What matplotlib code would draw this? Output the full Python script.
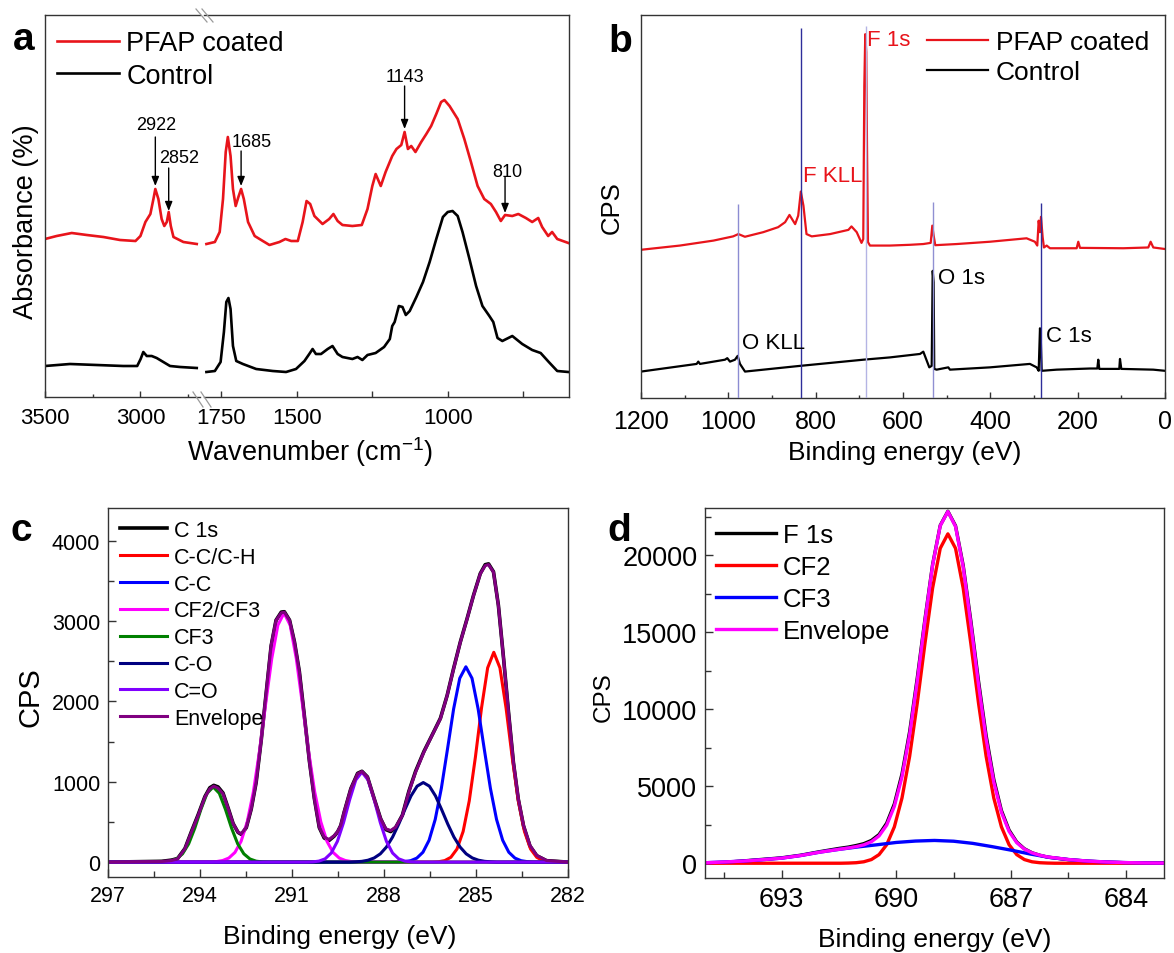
import matplotlib
matplotlib.use('Agg')
import matplotlib.pyplot as plt
from matplotlib.lines import Line2D

plt.rcParams['font.family'] = ['Liberation Sans', 'DejaVu Sans']
plt.rcParams['mathtext.fontset'] = 'custom'
plt.rcParams['mathtext.rm'] = 'Liberation Sans'
plt.rcParams['mathtext.it'] = 'Liberation Sans:italic'
plt.rcParams['mathtext.bf'] = 'Liberation Sans:bold'

# ---------------- Panel a : FTIR (broken wavenumber axis) ----------------
A_HI_WN_PFAP = [3500, 3439, 3360, 3281, 3194, 3107, 3026, 3000, 2974, 2948, 2932, 2922,
                2906, 2889, 2875, 2862, 2852, 2841, 2827, 2775, 2705]
A_HI_PFAP = [1.58, 1.61, 1.64, 1.62, 1.60, 1.57, 1.56, 1.61, 1.75, 1.83, 1.98, 2.08,
             1.98, 1.78, 1.71, 1.75, 1.85, 1.71, 1.60, 1.55, 1.53]
A_HI_WN_CTRL = [3500, 3369, 3229, 3090, 3017, 2999, 2985, 2967, 2941, 2915, 2880, 2845, 2792, 2705]
A_HI_CTRL = [0.31, 0.33, 0.32, 0.31, 0.31, 0.38, 0.45, 0.41, 0.41, 0.39, 0.35, 0.31, 0.30, 0.29]

A_LO_WN_PFAP = [1800, 1772, 1756, 1745, 1736, 1729, 1720, 1712, 1703, 1694,
                1685, 1676, 1662, 1640, 1613, 1591, 1558, 1538, 1519, 1497,
                1481, 1468, 1456, 1442, 1415, 1393, 1379, 1365, 1349, 1316,
                1285, 1266, 1250, 1239, 1222, 1206, 1184, 1170, 1154, 1143,
                1132, 1121, 1107, 1088, 1071, 1055, 1038, 1022, 1011, 994,
                967, 945, 923, 901, 879, 857, 840, 824, 810, 786,
                766, 741, 720, 700, 687, 667, 654, 637, 600]
A_LO_PFAP = [1.53, 1.55, 1.65, 1.98, 2.45, 2.60, 2.41, 2.08, 1.91, 2.00,
             2.08, 1.98, 1.75, 1.61, 1.56, 1.52, 1.55, 1.58, 1.56, 1.56,
             1.75, 1.96, 1.93, 1.81, 1.73, 1.78, 1.83, 1.76, 1.72, 1.71,
             1.72, 1.88, 2.11, 2.23, 2.11, 2.25, 2.41, 2.48, 2.52, 2.65,
             2.48, 2.51, 2.45, 2.55, 2.63, 2.71, 2.83, 2.95, 2.97, 2.91,
             2.78, 2.58, 2.35, 2.11, 1.98, 1.93, 1.85, 1.76, 1.82, 1.81,
             1.83, 1.79, 1.75, 1.79, 1.70, 1.61, 1.65, 1.58, 1.54]
A_LO_WN_CTRL = [1800, 1772, 1753, 1742, 1734, 1727, 1720, 1712, 1701, 1679,
                1635, 1580, 1536, 1503, 1475, 1459, 1448, 1437, 1420, 1398,
                1382, 1365, 1349, 1316, 1299, 1283, 1266, 1239, 1211, 1192,
                1184, 1176, 1162, 1150, 1139, 1126, 1104, 1082, 1060, 1038,
                1016, 1000, 984, 967, 951, 928, 906, 885, 862, 849,
                835, 819, 786, 753, 720, 692, 665, 637, 600]
A_LO_CTRL = [0.25, 0.26, 0.35, 0.65, 0.95, 0.99, 0.88, 0.51, 0.36, 0.33,
             0.28, 0.26, 0.25, 0.28, 0.36, 0.43, 0.48, 0.43, 0.43, 0.48,
             0.51, 0.43, 0.40, 0.38, 0.40, 0.37, 0.42, 0.44, 0.50, 0.58,
             0.71, 0.75, 0.91, 0.90, 0.82, 0.86, 1.00, 1.15, 1.35, 1.58,
             1.80, 1.85, 1.86, 1.81, 1.65, 1.38, 1.11, 0.91, 0.81, 0.75,
             0.59, 0.56, 0.61, 0.53, 0.47, 0.44, 0.35, 0.26, 0.25]
A_PEAK_LABELS = ['2922', '2852', '1685', '1143', '810']
A_PEAK_WN = [2922, 2852, 1685, 1143, 810]

# ---------------- Panel b : XPS survey ----------------
B_EV_PFAP = [1200, 1111, 1034, 989, 977, 962, 920, 886, 870, 860, 847, 840, 834, 828, 821,
             809, 767, 725, 718, 706, 695, 691, 688.6, 686.4, 684.1, 682.5, 680.2, 675.6,
             630, 584, 553.5, 536.6, 532.9, 529.8, 526.1, 477, 401, 317, 298, 292.5, 289.3,
             286.3, 284, 280.2, 277.2, 271, 263.4, 202.3, 198.6, 194.7, 95.5, 38.3, 32.9, 26.8, 0]
B_PFAP = [38.7, 39.8, 41.1, 42.2, 42.8, 42.1, 43.3, 44.6, 45.9, 47.8, 45.4, 47.6, 53.9, 50.2, 42.8,
          42.2, 42.8, 43.9, 44.8, 43.3, 40.5, 41.5, 81.5, 95.0, 90.3, 66.8, 40.7, 39.8,
          39.8, 40.0, 40.2, 40.5, 45.0, 42.4, 39.9, 40.2, 40.8, 41.7, 40.8, 39.8, 46.3,
          43.3, 47.3, 42.0, 39.3, 39.8, 39.1, 39.1, 40.8, 39.2, 39.1, 39.3, 40.8, 39.3, 38.9]
B_EV_CTRL = [1200, 1072.5, 1068.8, 1065, 1007.7, 1002.4, 996.2, 984.8, 978.6, 973.3, 961.8,
             843.5, 691, 629.8, 561.1, 553.5, 539.8, 534.3, 532, 529.8, 528.4, 523, 496.3,
             492.4, 400.8, 309.3, 293.9, 289.3, 286.3, 284.7, 282.4, 248.1, 171.8, 155,
             152.8, 150.5, 104.7, 103.1, 100.1, 26.8, 0]
B_CTRL = [6.9, 8.9, 9.5, 8.9, 10.0, 10.4, 9.5, 10.0, 11.0, 8.9, 6.9,
          8.3, 10.0, 10.6, 11.5, 12.1, 8.0, 8.4, 33.2, 30.2, 7.6, 7.4, 8.0,
          7.4, 8.0, 8.9, 8.0, 7.1, 18.2, 16.3, 7.1, 7.4, 7.7, 7.7,
          10.0, 7.6, 7.6, 10.2, 7.6, 7.4, 7.1]
B_LINE_EV = [977, 834, 685, 531, 283]
B_LINE_TOP = [50.7, 96.5, 97.1, 51.3, 51.0]
B_LINE_COLORS = ['#8c8cd2', '#2e2e9a', '#b4b4e4', '#9090d2', '#2e2e9a']

# ---------------- Panel c : C 1s high resolution ----------------
C_ENV_EV = [297.0, 295.25, 294.93, 294.73, 294.49, 294.28, 294.06, 293.84, 293.68, 293.55,
            293.41, 293.25, 293.08, 292.92, 292.76, 292.65, 292.49, 292.33, 292.17, 292.00,
            291.84, 291.68, 291.52, 291.35, 291.25, 291.08, 290.92, 290.76, 290.60, 290.43,
            290.27, 290.11, 289.95, 289.79, 289.62, 289.51, 289.41, 289.30, 289.08, 288.86,
            288.72, 288.54, 288.32, 288.11, 287.94, 287.78, 287.62, 287.40, 287.19, 286.97,
            286.70, 286.38, 286.16, 285.94, 285.73, 285.51, 285.29, 285.08, 284.86, 284.70,
            284.59, 284.43, 284.27, 284.10, 283.94, 283.78, 283.62, 283.45, 283.24, 283.02,
            282.70, 282.0]
C_ENVELOPE = [0, 8, 20, 41, 166, 373, 580, 808, 912, 945,
              920, 850, 663, 477, 373, 352, 435, 663, 995, 1534,
              2114, 2695, 3006, 3101, 3109, 3006, 2736, 2363, 1824, 1244,
              787, 435, 311, 282, 330, 380, 456, 622, 912, 1098,
              1127, 1057, 787, 539, 414, 393, 435, 580, 871, 1119,
              1368, 1617, 1783, 2073, 2405, 2736, 3026, 3317, 3586, 3689,
              3701, 3607, 3192, 2529, 1866, 1244, 787, 456, 207, 83,
              20, 0]
C_RAW = [0, 10, 25, 45, 170, 380, 590, 815, 925, 955,
         935, 860, 670, 480, 370, 345, 430, 660, 990, 1530,
         2110, 2690, 3010, 3110, 3115, 3010, 2740, 2370, 1830, 1250,
         790, 430, 300, 270, 325, 378, 455, 620, 915, 1105,
         1130, 1060, 790, 540, 405, 380, 430, 585, 880, 1130,
         1375, 1620, 1790, 2075, 2410, 2740, 3030, 3320, 3590, 3700,
         3710, 3612, 3195, 2530, 1865, 1240, 780, 450, 200, 80,
         18, 0]
C_CCH_EV = [297, 286.42, 286.22, 286.02, 285.82, 285.62, 285.42, 285.22, 285.02, 284.82, 284.62,
            284.42, 284.22, 284.02, 283.82, 283.62, 283.42, 283.22, 283.02, 282.82, 282.62, 282.42, 282]
C_CCH = [0, 0, 5, 19, 60, 163, 381, 762, 1305, 1918, 2417,
         2610, 2417, 1918, 1305, 762, 381, 163, 60, 19, 5, 0, 0]
C_CC_EV = [297, 287.53, 287.33, 287.13, 286.93, 286.73, 286.53, 286.33, 286.13, 285.93, 285.73,
           285.53, 285.33, 285.13, 284.93, 284.73, 284.53, 284.33, 284.13, 283.93, 283.73,
           283.53, 283.33, 283.13, 282]
C_CC = [0, 0, 6, 18, 50, 123, 272, 531, 918, 1405, 1905,
        2287, 2430, 2287, 1905, 1405, 918, 531, 272, 123, 50,
        18, 6, 0, 0]
C_CF2_EV = [297, 293.66, 293.46, 293.26, 293.06, 292.86, 292.66, 292.46, 292.26, 292.06, 291.86,
            291.66, 291.46, 291.26, 291.06, 290.86, 290.66, 290.46, 290.26, 290.06, 289.86,
            289.66, 289.46, 289.26, 289.06, 288.86, 282]
C_CF2 = [0, 0, 7, 20, 51, 121, 259, 501, 874, 1379, 1965,
         2532, 2948, 3100, 2948, 2532, 1965, 1379, 874, 501, 259,
         121, 51, 20, 7, 0, 0]
C_CF3_EV = [297, 295.37, 295.17, 294.97, 294.77, 294.57, 294.37, 294.17, 293.97, 293.77, 293.57,
            293.37, 293.17, 292.97, 292.77, 292.57, 292.37, 292.17, 291.97, 291.77, 282]
C_CF3 = [0, 0, 3, 12, 39, 103, 227, 422, 656, 856, 935,
         856, 656, 422, 227, 103, 39, 12, 3, 0, 0]
C_CO_EV = [297, 289.12, 288.92, 288.72, 288.52, 288.32, 288.12, 287.92, 287.72, 287.52, 287.32,
           287.12, 286.92, 286.72, 286.52, 286.32, 286.12, 285.92, 285.72, 285.52, 285.32,
           285.12, 284.92, 284.72, 284.52, 284.32, 282]
C_CO = [0, 0, 4, 10, 24, 52, 103, 188, 312, 473, 653,
        823, 945, 990, 945, 823, 653, 473, 312, 188, 103,
        52, 24, 10, 4, 0, 0]
C_CdO_EV = [297, 290.52, 290.32, 290.12, 289.92, 289.72, 289.52, 289.32, 289.12, 288.92, 288.72,
            288.52, 288.32, 288.12, 287.92, 287.72, 287.52, 287.32, 287.12, 286.92, 282]
C_CdO = [0, 0, 3, 13, 41, 113, 258, 491, 776, 1022, 1120,
         1022, 776, 491, 258, 113, 41, 13, 3, 0, 0]

# ---------------- Panel d : F 1s high resolution ----------------
D_ENV_EV = [695, 694.5, 694, 693.5, 693, 692.5, 692, 691.5, 691.25, 691.05,
            690.85, 690.65, 690.45, 690.25, 690.05, 689.85, 689.65, 689.45, 689.25, 689.05,
            688.85, 688.65, 688.45, 688.25, 688.05, 687.85, 687.65, 687.45, 687.25, 687.05,
            686.85, 686.65, 686.45, 686.25, 686.05, 685.5, 685, 684.5, 684, 683.5, 683]
D_ENVELOPE = [30, 80, 140, 230, 330, 500, 720, 905, 991, 1078,
              1193, 1398, 1774, 2477, 3695, 5607, 8358, 11862, 15735, 19356,
              21928, 22850, 21878, 19248, 15565, 11627, 8073, 5277, 3310, 2072,
              1339, 918, 673, 523, 411, 240, 140, 80, 40, 20, 10]
D_RAW = [20, 50, 150, 250, 350, 520, 750, 960, 1050, 1150,
         1270, 1480, 1860, 2600, 3850, 5800, 8550, 12050, 15850, 19400,
         21950, 22870, 21920, 19350, 15750, 11850, 8300, 5450, 3420, 2150,
         1380, 940, 680, 520, 400, 230, 130, 70, 30, 30, 20]
D_CF2_EV = [695, 691.45, 691.25, 691.05, 690.85, 690.65, 690.45, 690.25, 690.05, 689.85,
            689.65, 689.45, 689.25, 689.05, 688.85, 688.65, 688.45, 688.25, 688.05, 687.85,
            687.65, 687.45, 687.25, 687.05, 686.85, 686.65, 686.45, 686.25, 686.05, 685.85, 683]
D_CF2 = [0, 0, 11, 33, 93, 238, 559, 1202, 2360, 4237,
         6948, 10417, 14275, 17878, 20458, 21400, 20458, 17878, 14275, 10417,
         6948, 4237, 2360, 1202, 559, 238, 93, 33, 11, 0, 0]
D_CF3_EV = [695, 694.5, 694, 693.5, 693, 692.5, 692, 691.5, 691, 690.5, 690, 689.5, 689,
            688.5, 688, 687.5, 687, 686.5, 686, 685.5, 685, 684.5, 684, 683.5, 683]
D_CF3 = [30, 80, 140, 230, 330, 500, 720, 900, 1060, 1200, 1350, 1440, 1480,
         1430, 1290, 1080, 850, 600, 380, 240, 140, 80, 40, 20, 10]

# ---------------- figure / layout helpers ----------------
W, H = 1174, 954
fig = plt.figure(figsize=(W / 100, H / 100), dpi=100)


def rect(l, t, r, b):
    return [l / W, 1 - b / H, (r - l) / W, (b - t) / H]


def fx(px):
    return px / W


def fy(py):
    return 1 - py / H


SPINE = '#333333'
RED = '#e8141b'


def style(ax, fs, maj, mnr, pad):
    ax.tick_params(which='both', direction='in', top=False, right=False,
                   labelsize=fs, pad=pad, color=SPINE)
    ax.tick_params(which='major', length=maj, width=1)
    ax.tick_params(which='minor', length=mnr, width=1)
    for s in ax.spines.values():
        s.set_color(SPINE)
        s.set_linewidth(1)


# ---------------- Panel a ----------------
axA1 = fig.add_axes(rect(45, 16, 200, 398))
axA2 = fig.add_axes(rect(204, 16, 569, 398))
axA1.plot(A_HI_WN_PFAP, A_HI_PFAP, color=RED, lw=1.9)
axA1.plot(A_HI_WN_CTRL, A_HI_CTRL, color='k', lw=1.9)
lA1, = axA2.plot(A_LO_WN_PFAP, A_LO_PFAP, color=RED, lw=1.9)
lA2, = axA2.plot(A_LO_WN_CTRL, A_LO_CTRL, color='k', lw=1.9)
axA1.set_xlim(3500, 2688)
axA2.set_xlim(1808, 598)
for ax in (axA1, axA2):
    ax.set_ylim(0, 3.82)
    ax.set_yticks([])
    style(ax, 16, 4.5, 2.4, 7.5)
axA1.spines['right'].set_visible(False)
axA2.spines['left'].set_visible(False)
axA1.set_xticks([3500, 3000])
axA1.set_xticks([3250, 2750], minor=True)
axA2.set_xticks([1750, 1500, 1250, 1000, 750])
axA2.set_xticklabels(['1750', '1500', '', '1000', ''])

arrow_kw = dict(arrowstyle='-|>,head_length=0.55,head_width=0.22', color='k', lw=1.0,
                shrinkA=0, shrinkB=0)
# (axis, text-x, text-y, arrow start y, arrow end y)
ann = [(axA1, 2918, 2.73, 2.60, 2.11),
       (axA1, 2796, 2.40, 2.29, 1.86),
       (axA2, 1651, 2.56, 2.46, 2.11),
       (axA2, 1143, 3.21, 3.11, 2.68),
       (axA2, 802, 2.26, 2.20, 1.84)]
for lab, wn, (ax, tx, ty, y0, y1) in zip(A_PEAK_LABELS, A_PEAK_WN, ann):
    ax.annotate('', xy=(wn, y1), xytext=(wn, y0), arrowprops=arrow_kw, annotation_clip=False)
    ax.text(tx, ty, lab, ha='center', va='center', fontsize=13)

brk = dict(color='#9a9a9a', lw=0.9, transform=fig.transFigure, clip_on=False)
for (x0, y0, x1, y1) in [(193, 393, 203, 408), (201, 393, 211, 408),
                         (196, 10, 207, 23), (202, 10, 213, 23)]:
    fig.add_artist(Line2D([fx(x0), fx(x1)], [fy(y0), fy(y1)], **brk))

fig.legend([lA1, lA2], ['PFAP coated', 'Control'], loc='upper left',
           bbox_to_anchor=(fx(57), fy(31)), bbox_transform=fig.transFigure,
           frameon=False, fontsize=19.5, handlelength=2.3, handletextpad=0.26,
           labelspacing=0.24, borderpad=0, borderaxespad=0)
fig.text(fx(310), fy(452), 'Wavenumber (cm$^{-1}$)', ha='center', va='center', fontsize=19.5)
fig.text(fx(26), fy(222), 'Absorbance (%)', ha='center', va='center', fontsize=19.5,
         rotation=90)
fig.text(fx(13), fy(50), 'a', ha='left', va='baseline', fontsize=28, fontweight='bold')

# ---------------- Panel b ----------------
axB = fig.add_axes(rect(641, 16, 1165, 399))
lB1, = axB.plot(B_EV_PFAP, B_PFAP, color=RED, lw=1.6)
lB2, = axB.plot(B_EV_CTRL, B_CTRL, color='k', lw=1.6)
for ev, top, c in zip(B_LINE_EV, B_LINE_TOP, B_LINE_COLORS):
    axB.vlines(ev, 0, top, color=c, lw=1.0, zorder=3)
axB.set_xlim(1200, 0)
axB.set_ylim(0, 100)
axB.set_yticks([])
axB.set_xticks([1200, 1000, 800, 600, 400, 200, 0])
axB.set_xticks([1100, 900, 700, 500, 300, 100], minor=True)
style(axB, 18, 4.5, 2.4, 8)
axB.text(681.8, 93.6, 'F 1s', color=RED, fontsize=16, ha='left', va='center')
axB.text(828.3, 58.0, 'F KLL', color=RED, fontsize=16, ha='left', va='center')
axB.text(969.4, 14.5, 'O KLL', color='k', fontsize=16, ha='left', va='center')
axB.text(519.2, 31.5, 'O 1s', color='k', fontsize=16, ha='left', va='center')
axB.text(272.6, 16.3, 'C 1s', color='k', fontsize=16, ha='left', va='center')
fig.legend([lB1, lB2], ['PFAP coated', 'Control'], loc='upper left',
           bbox_to_anchor=(fx(927), fy(31)), bbox_transform=fig.transFigure,
           frameon=False, fontsize=19, handlelength=2.33, handletextpad=0.28,
           labelspacing=0.24, borderpad=0, borderaxespad=0)
fig.text(fx(905), fy(453), 'Binding energy (eV)', ha='center', va='center', fontsize=19)
fig.text(fx(612), fy(208), 'CPS', ha='center', va='center', fontsize=18.5, rotation=90)
fig.text(fx(608), fy(52), 'b', ha='left', va='baseline', fontsize=28, fontweight='bold')

# ---------------- Panel c ----------------
axC = fig.add_axes(rect(108, 509, 568, 878))
axC.plot(C_ENV_EV, C_RAW, color='k', lw=2.6, label='C 1s')
axC.plot(C_CCH_EV, C_CCH, color='#ff0000', lw=2.2, label='C-C/C-H')
axC.plot(C_CC_EV, C_CC, color='#0000ff', lw=2.2, label='C-C')
axC.plot(C_CF2_EV, C_CF2, color='#ff00ff', lw=2.2, label='CF2/CF3')
axC.plot(C_CF3_EV, C_CF3, color='#008000', lw=2.2, label='CF3')
axC.plot(C_CO_EV, C_CO, color='#000080', lw=2.2, label='C-O')
axC.plot(C_CdO_EV, C_CdO, color='#8000ff', lw=2.2, label='C=O')
axC.plot(C_ENV_EV, C_ENVELOPE, color='#800080', lw=2.2, label='Envelope')
axC.set_xlim(297, 282)
axC.set_ylim(-185, 4405)
axC.set_xticks([297, 294, 291, 288, 285, 282])
axC.set_xticks([295.5, 292.5, 289.5, 286.5, 283.5], minor=True)
axC.set_yticks([0, 1000, 2000, 3000, 4000])
axC.set_yticks([500, 1500, 2500, 3500], minor=True)
style(axC, 15.5, 5.8, 4.5, 5.5)
axC.legend(loc='upper left', bbox_to_anchor=(fx(120), fy(521)), bbox_transform=fig.transFigure,
           frameon=False, fontsize=15.5, handlelength=2.17, handletextpad=0.34,
           labelspacing=0.27, borderpad=0, borderaxespad=0)
fig.text(fx(340), fy(937), 'Binding energy (eV)', ha='center', va='center', fontsize=19)
fig.text(fx(30), fy(697), 'CPS', ha='center', va='center', fontsize=21, rotation=90)
fig.text(fx(11), fy(541), 'c', ha='left', va='baseline', fontsize=28, fontweight='bold')

# ---------------- Panel d ----------------
axD = fig.add_axes(rect(705, 509, 1164, 879))
axD.plot(D_ENV_EV, D_RAW, color='k', lw=2.4, label='F 1s')
axD.plot(D_CF2_EV, D_CF2, color='#ff0000', lw=2.4, label='CF2')
axD.plot(D_CF3_EV, D_CF3, color='#0000ff', lw=2.4, label='CF3')
axD.plot(D_ENV_EV, D_ENVELOPE, color='#ff00ff', lw=2.4, label='Envelope')
axD.set_xlim(695, 683)
axD.set_ylim(-960, 23080)
axD.set_xticks([693, 690, 687, 684])
axD.set_xticks([694.5, 691.5, 688.5, 685.5], minor=True)
axD.set_yticks([0, 5000, 10000, 15000, 20000])
axD.set_yticks([2500, 7500, 12500, 17500, 22500], minor=True)
style(axD, 19.5, 5.8, 4.5, 5.5)
axD.legend(loc='upper left', bbox_to_anchor=(fx(716), fy(524)), bbox_transform=fig.transFigure,
           frameon=False, fontsize=18.5, handlelength=2.33, handletextpad=0.26,
           labelspacing=0.31, borderpad=0, borderaxespad=0)
fig.text(fx(935), fy(940), 'Binding energy (eV)', ha='center', va='center', fontsize=19)
fig.text(fx(604), fy(697), 'CPS', ha='center', va='center', fontsize=17.5, rotation=90)
fig.text(fx(607), fy(541), 'd', ha='left', va='baseline', fontsize=28, fontweight='bold')

fig.savefig('out.png', dpi=100)
